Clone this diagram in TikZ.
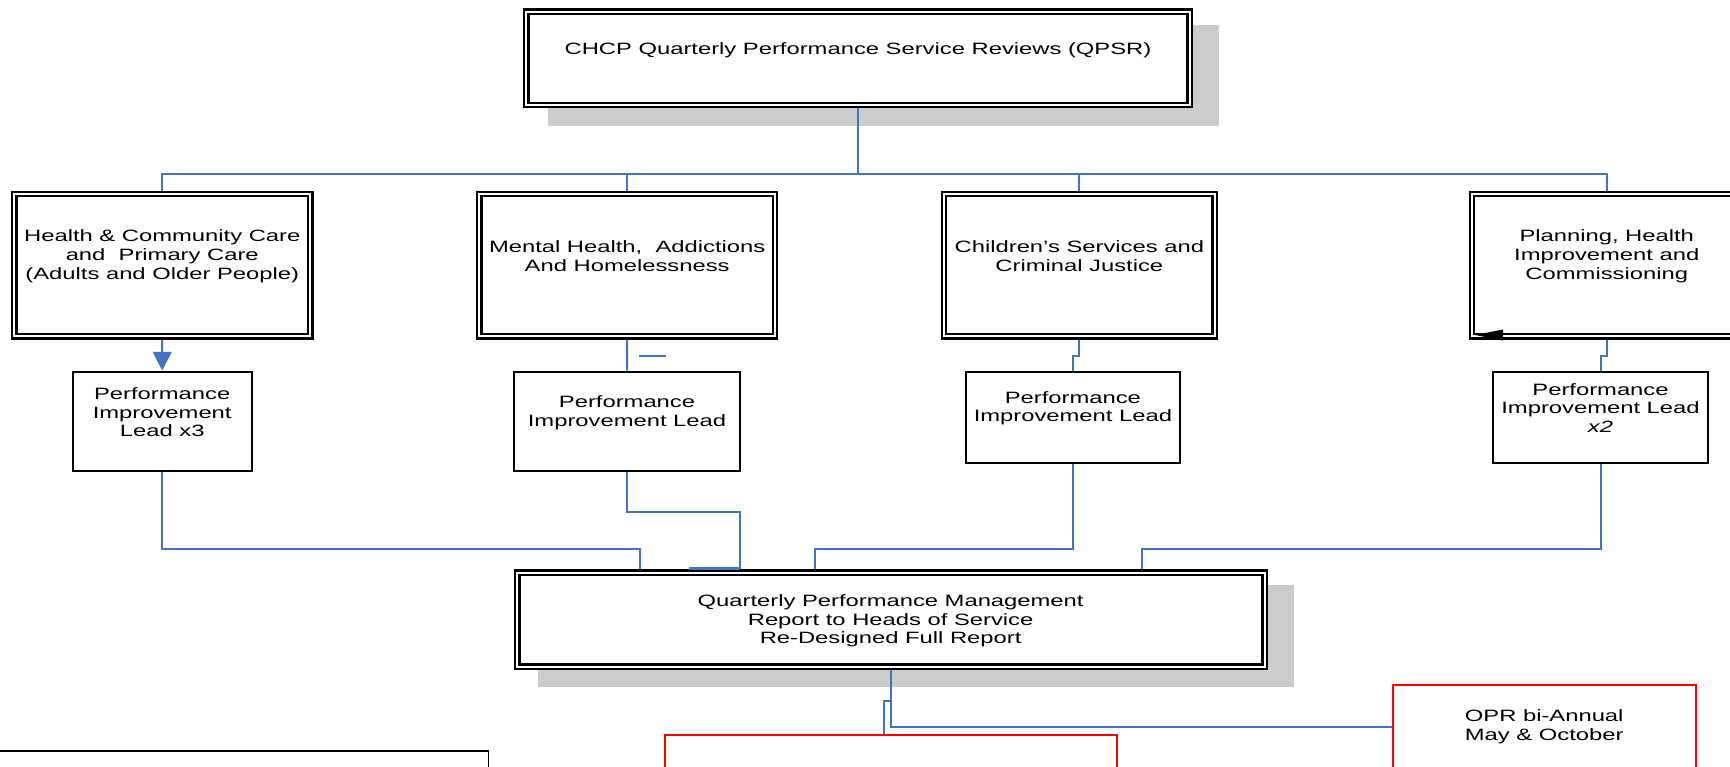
\documentclass[tikz,border=0pt]{standalone}
\usepackage{fontspec}
\setmainfont{Liberation Sans}[FakeStretch=1.45]
\usetikzlibrary{arrows.meta}
\definecolor{wireblue}{HTML}{4472C4}
\definecolor{shadowgray}{HTML}{CCCCCC}
\begin{document}
\begin{tikzpicture}[x=1pt,y=-1pt,
  every node/.style={font=\fontsize{16.4}{18.7}\selectfont},
  dblbox/.style={rectangle, draw=black, line width=2.2pt, double=white, double distance=2.2pt, fill=white, inner sep=0pt, outer sep=3.3pt},
  onebox/.style={rectangle, draw=black, line width=2.2pt, fill=white, inner sep=0pt},
  redbox/.style={rectangle, draw=red, fill=white, inner sep=0pt},
  shadowbox/.style={rectangle, fill=shadowgray, draw=none, inner sep=0pt},
  txt/.style={align=center, inner sep=0pt},
  wire/.style={draw=wireblue, line width=2pt}]
\useasboundingbox (0,0) rectangle (1730,766);
\clip (0,0) rectangle (1730,766);
\fill[white] (0,0) rectangle (1730,766);

% shadows
\node[shadowbox, minimum width=670.5pt, minimum height=101pt] (topS) at (883.25,75.5) {};
\node[shadowbox, minimum width=756.5pt, minimum height=101.7pt] (QS) at (915.75,635.85) {};

% top box
\node[dblbox, minimum width=663.4pt, minimum height=93.4pt] (top) at (858,58.3) {};
\node[txt] (topT) at (858,49.8) {CHCP Quarterly Performance Service Reviews (QPSR)};

% level 2
\node[dblbox, minimum width=295.9pt, minimum height=142.4pt] (A) at (162.25,265) {};
\node[txt] (AT) at (162.25,256.2) {Health \& Community Care\\and~~Primary Care\\(Adults and Older People)};
\node[dblbox, minimum width=295.7pt, minimum height=142.4pt] (B) at (627.15,265) {};
\node[txt] (BT) at (627.15,256.2) {Mental Health,~~Addictions\\And Homelessness};
\node[dblbox, minimum width=270.7pt, minimum height=142.4pt] (C) at (1079.35,265) {};
\node[txt] (CT) at (1079.35,256.2) {Children’s Services and\\Criminal Justice};
\node[dblbox, minimum width=269.9pt, minimum height=142.4pt] (D) at (1606.75,265) {};
\node[txt] (DT) at (1606.75,256.2) {Planning, Health\\Improvement and\\Commissioning};

% level 3
\node[onebox, minimum width=179pt, minimum height=99.3pt] (A3) at (162.2,421.35) {};
\node[txt] (A3T) at (162.2,412.3) {Performance\\Improvement\\Lead x3};
\node[onebox, minimum width=226.6pt, minimum height=99.3pt] (B3) at (627,421.35) {};
\node[txt] (B3T) at (627,412.5) {Performance\\Improvement Lead};
\node[onebox, minimum width=213.8pt, minimum height=91.3pt] (C3) at (1072.9,417.35) {};
\node[txt] (C3T) at (1072.9,408.3) {Performance\\Improvement Lead};
\node[onebox, minimum width=214.4pt, minimum height=91.3pt] (D3) at (1600.5,417.35) {};
\node[txt] (D3T) at (1600.5,408) {Performance\\Improvement Lead\\\textit{x2}};

% report box
\node[dblbox, minimum width=747.4pt, minimum height=94.1pt] (Q) at (891,619.65) {};
\node[txt] (QT) at (890.6,620.8) {Quarterly Performance Management\\Report to Heads of Service\\Re-Designed Full Report};

% bottom boxes
\node[redbox, line width=2.2pt, minimum width=452.4pt, minimum height=60pt] (R1) at (890.8,765) {};
\node[redbox, line width=1.6pt, minimum width=303pt, minimum height=83.4pt, align=center] (OPR) at (1544.2,726.7)
  {OPR bi-Annual\\May \& October};
\node[onebox, line width=1.6pt, minimum width=500pt, minimum height=80pt] (L) at (238.6,790.7) {};

% connectors top
\draw[wire] (top.south) -- ++(0,65.7) coordinate (hub);
\draw[wire] (A.north) -- (A.north |- hub) -- (D.north |- hub) -- (D.north);
\draw[wire] (B.north) -- (B.north |- hub);
\draw[wire] (C.north) -- (C.north |- hub);

% level 2 to level 3
\draw[wire, -{Triangle[width=18.7pt,length=18.7pt]}] (A.south) -- (A3.north);
\draw[wire] (B.south) -- (B3.north);
\draw[wire] ([shift={(11.85,16.2)}]B.south) coordinate (dashS) -- ++(26.7,0) coordinate (dashE);
\draw[wire] (C.south) -- ++(0,16.2) -| (C3.north);
\draw[wire] (D.south) -- ++(0,16.2) -| (D3.north);
\fill[black] ([shift={(6.5,-4.5)}]D.south west) -- ++(28,-5.5) -- ++(0,11) -- cycle;

% level 3 to report
\draw[wire] (A3.south) -- ++(0,77.1) -| ([shift={(126,0)}]Q.north west);
\draw[wire] (B3.south) -- ++(0,40.1) -| ([shift={(225.5,0)}]Q.north west);
\draw[wire, line width=2.4pt] ([shift={(175,-1)}]Q.north west) -- ([shift={(225.5,-1)}]Q.north west);
\draw[wire] (C3.south) -- ++(0,85.1) -| ([shift={(301,0)}]Q.north west);
\draw[wire] (D3.south) -- ++(0,85.1) -| ([shift={(628,0)}]Q.north west);

% report to bottom
\draw[wire] (Q.south) |- (OPR.west);
\draw[wire] ([shift={(0,30.7)}]Q.south) -| ([shift={(-6.5,0)}]R1.north);
\end{tikzpicture}
\end{document}
